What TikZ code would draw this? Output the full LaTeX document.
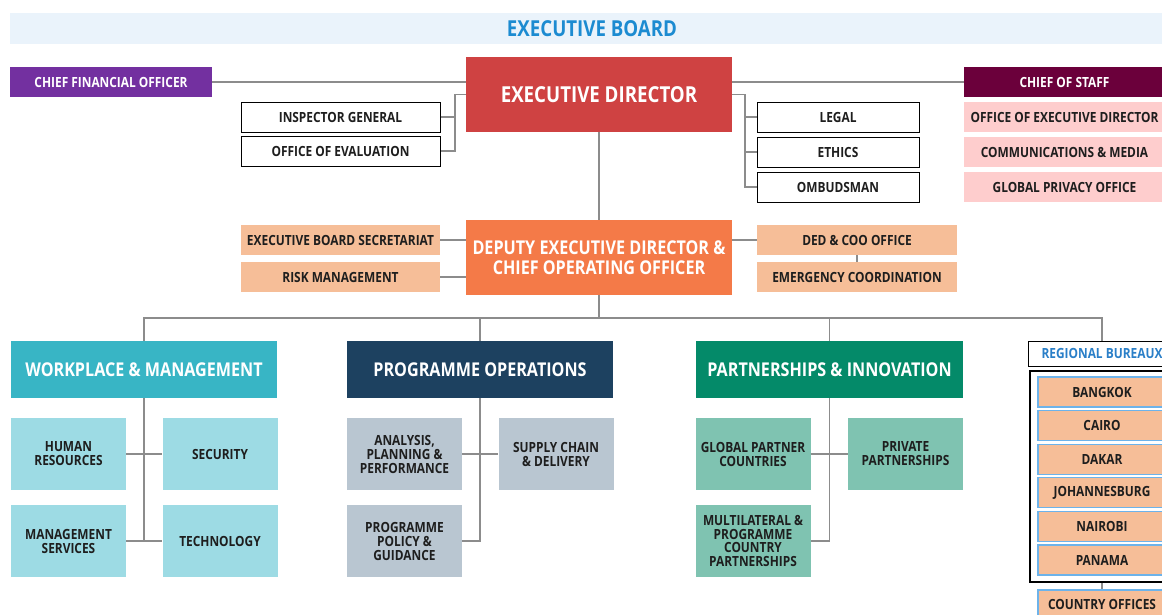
\documentclass[tikz,border=0pt]{standalone}
\usepackage{fontspec}
\setmainfont{Open Sans}[FakeStretch=0.85]

\definecolor{boardbg}{HTML}{EAF3FB}
\definecolor{boardtxt}{HTML}{1C8BD1}
\definecolor{cfopurple}{HTML}{7330A0}
\definecolor{edred}{HTML}{CF4242}
\definecolor{cosred}{HTML}{6B003B}
\definecolor{pink}{HTML}{FECDCD}
\definecolor{dedorange}{HTML}{F47A48}
\definecolor{peach}{HTML}{F6BE98}
\definecolor{wmteal}{HTML}{38B5C5}
\definecolor{wmlight}{HTML}{9DDBE4}
\definecolor{ponavy}{HTML}{1D4160}
\definecolor{polight}{HTML}{B9C6D1}
\definecolor{pigreen}{HTML}{048A69}
\definecolor{pilight}{HTML}{7FC3B1}
\definecolor{rbblue}{HTML}{6DB3EA}
\definecolor{rbtxt}{HTML}{2A7FC8}
\definecolor{linegray}{HTML}{8C8C8C}
\definecolor{txt}{HTML}{1E1E1E}

\begin{document}
\begin{tikzpicture}[x=1pt,y=-1pt,
  box/.style={rectangle, inner sep=0pt, align=center, text=txt,
    font=\bfseries\fontsize{14}{14}\selectfont},
  wide/.style={box, minimum width=199pt, minimum height=30pt},
  plain/.style={wide, draw=black, line width=1pt, fill=white},
  head/.style={box, minimum width=266pt, minimum height=57pt, text=white,
    font=\bfseries\fontsize{19}{19.5}\selectfont},
  sub/.style={box, minimum width=115pt, minimum height=72pt},
  region/.style={box, minimum width=128pt, minimum height=30pt, fill=peach,
    draw=rbblue, line width=1.2pt},
  conn/.style={draw=linegray, line width=1.5pt}]
\useasboundingbox (0,0) rectangle (1162,614);

% board and top level
\node[box, fill=boardbg, minimum width=1164pt, minimum height=31pt, text=boardtxt,
  font=\bfseries\fontsize{22}{22}\selectfont] (board) at (592,28.5) {EXECUTIVE BOARD};
\node[wide, minimum width=202pt, fill=cfopurple, text=white] (cfo) at (111,82) {CHIEF FINANCIAL OFFICER};
\node[head, minimum height=75pt, fill=edred, font=\bfseries\fontsize{22}{22}\selectfont] (ed) at (599,94.5) {EXECUTIVE DIRECTOR};
\node[plain] (insp) at (340.5,117) {INSPECTOR GENERAL};
\node[plain] (eval) at (340.5,151) {OFFICE OF EVALUATION};
\node[plain, minimum width=162pt] (legal) at (838,117) {LEGAL};
\node[plain, minimum width=162pt] (ethics) at (838,152) {ETHICS};
\node[plain, minimum width=162pt] (ombud) at (838,187) {OMBUDSMAN};
\node[wide, minimum width=201pt, fill=cosred, text=white] (cos) at (1064.5,82) {CHIEF OF STAFF};
\node[wide, minimum width=201pt, fill=pink] (oed) at (1064.5,117) {OFFICE OF EXECUTIVE DIRECTOR};
\node[wide, minimum width=201pt, fill=pink] (comms) at (1064.5,152) {COMMUNICATIONS \& MEDIA};
\node[wide, minimum width=201pt, fill=pink] (privacy) at (1064.5,187) {GLOBAL PRIVACY OFFICE};

% deputy level
\node[head, minimum height=75pt, fill=dedorange] (ded) at (599,257.5) {DEPUTY EXECUTIVE DIRECTOR \&\\CHIEF OPERATING OFFICER};
\node[wide, fill=peach] (ebs) at (340.5,240) {EXECUTIVE BOARD SECRETARIAT};
\node[wide, fill=peach] (risk) at (340.5,277) {RISK MANAGEMENT};
\node[wide, minimum width=200pt, fill=peach] (dedoffice) at (857,240) {DED \& COO OFFICE};
\node[wide, minimum width=200pt, fill=peach] (emerg) at (857,277) {EMERGENCY COORDINATION};

% departments
\node[head, fill=wmteal] (wm) at (144,369.5) {WORKPLACE \& MANAGEMENT};
\node[head, fill=ponavy] (po) at (480,369.5) {PROGRAMME OPERATIONS};
\node[head, minimum width=267pt, fill=pigreen] (pi) at (829.5,369.5) {PARTNERSHIPS \& INNOVATION};
\node[box, draw=black, line width=1pt, fill=white, minimum width=148pt, minimum height=25pt,
  text=rbtxt] (rbl) at (1102,353.5) {REGIONAL BUREAUX};
\node[draw=black, line width=2pt, minimum width=144pt, minimum height=211pt, inner sep=0pt] (frame) at (1102,476.5) {};
\foreach \city [count=\i] in {BANGKOK,CAIRO,DAKAR,JOHANNESBURG,NAIROBI,PANAMA}
  \node[region] (rb\i) at (1102,{392+33.6*(\i-1)}) {\city};
\node[region, minimum height=28pt] (co) at (1102,604) {COUNTRY OFFICES};

% units
\node[sub, fill=wmlight] (hr) at (68.5,454) {HUMAN\\RESOURCES};
\node[sub, fill=wmlight] (sec) at (220,454) {SECURITY};
\node[sub, fill=wmlight] (mgmt) at (68.5,541) {MANAGEMENT\\SERVICES};
\node[sub, fill=wmlight] (tech) at (220,541) {TECHNOLOGY};
\node[sub, fill=polight] (app) at (404.5,454) {ANALYSIS,\\PLANNING \&\\PERFORMANCE};
\node[sub, fill=polight] (supply) at (556,454) {SUPPLY CHAIN\\\& DELIVERY};
\node[sub, fill=polight] (policy) at (404.5,541) {PROGRAMME\\POLICY \&\\GUIDANCE};
\node[sub, fill=pilight] (gpc) at (753,454) {GLOBAL PARTNER\\COUNTRIES};
\node[sub, fill=pilight] (private) at (905.5,454) {PRIVATE\\PARTNERSHIPS};
\node[sub, fill=pilight, font=\bfseries\fontsize{14}{13.5}\selectfont] (multi) at (753,541) {MULTILATERAL \&\\PROGRAMME\\COUNTRY\\PARTNERSHIPS};

% connectors
\coordinate (edleft) at ([xshift=-11pt]ed.west);
\coordinate (edright) at ([xshift=13pt]ed.east);
\coordinate (bus) at (599,318);
\draw[conn] (cfo.east) -- (cfo.east -| ed.west);
\draw[conn] (ed.west) -- (edleft) |- (eval.east);
\draw[conn] (insp.east) -- (insp.east -| edleft);
\draw[conn] (ed.east) -- (edright) |- (ombud.west);
\draw[conn] (legal.west) -- (legal.west -| edright);
\draw[conn] (ethics.west) -- (ethics.west -| edright);
\draw[conn] (cos.west) -- (cos.west -| ed.east);
\draw[conn] (ed.south) -- (ded.north);
\draw[conn] (ebs.east) -- (ebs.east -| ded.west);
\draw[conn] (risk.east) -- (risk.east -| ded.west);
\draw[conn] (dedoffice.west) -- (dedoffice.west -| ded.east);
\draw[conn] (dedoffice.south) -- (emerg.north);
\draw[conn] (ded.south) -- (bus);
\draw[conn] (wm.north) |- (bus -| rbl.north) -- (rbl.north);
\draw[conn] (po.north) -- (po.north |- bus);
\draw[conn] (pi.north) -- (pi.north |- bus);
\draw[conn] (wm.south) -- (wm.south |- mgmt.east);
\draw[conn] (hr.east) -- (sec.west);
\draw[conn] (mgmt.east) -- (tech.west);
\draw[conn] (po.south) |- (policy.east);
\draw[conn] (app.east) -- (supply.west);
\draw[conn] (pi.south) |- (multi.east);
\draw[conn] (gpc.east) -- (private.west);
\draw[conn] (frame.south) -- (co.north);
\end{tikzpicture}
\end{document}
